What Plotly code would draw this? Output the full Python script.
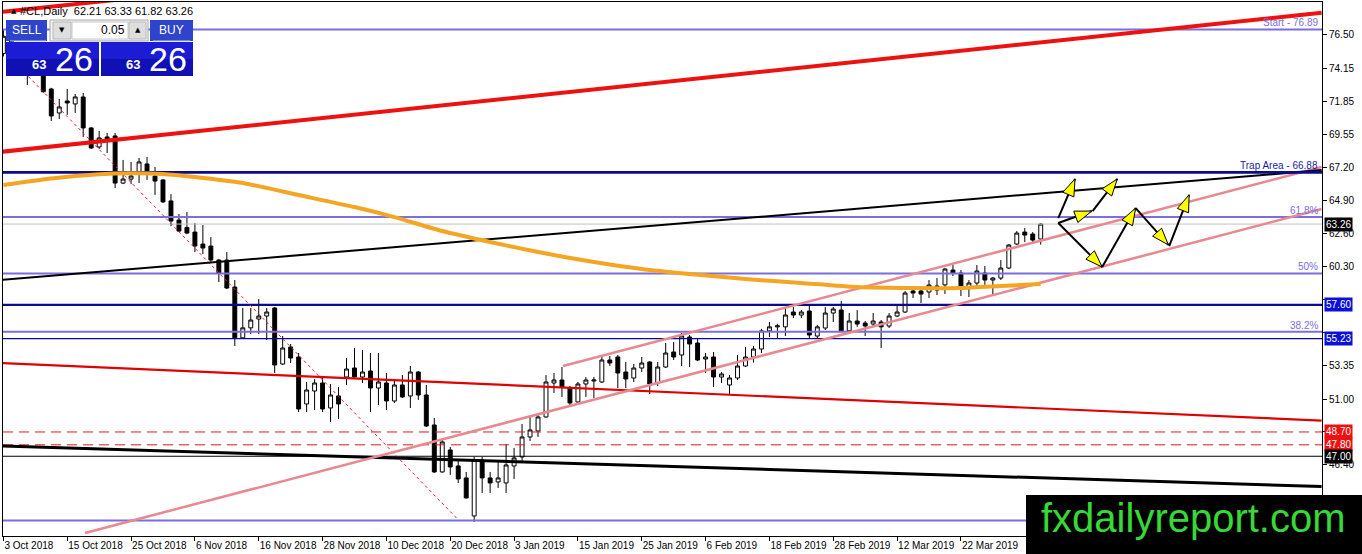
import plotly.graph_objects as go

# ---------------- data ----------------
opens = [75.20, 76.41, 74.33, 74.34, 74.29, 74.96, 72.72, 71.04, 71.88, 71.67,
         72.16, 69.99, 68.66, 69.36, 69.43, 66.13, 66.41, 66.91, 67.47, 66.62,
         66.35, 64.88, 63.54, 63.02, 62.70, 61.86, 61.72, 60.74, 60.74, 58.85,
         55.29, 55.99, 56.61, 56.82, 57.38, 53.46, 54.65, 53.95, 50.66, 51.57,
         52.13, 50.38, 51.22, 52.55, 53.18, 52.55, 52.97, 51.78, 52.13, 50.87,
         51.99, 51.22, 52.90, 51.29, 49.19, 45.90, 47.44, 46.32, 45.48, 42.82,
         46.74, 45.48, 45.20, 45.13, 46.32, 46.95, 48.35, 48.77, 49.75, 52.13,
         52.34, 51.78, 50.80, 52.06, 52.27, 52.20, 53.74, 53.95, 52.90, 52.48,
         53.18, 53.60, 52.13, 53.25, 54.30, 54.09, 55.35, 54.93, 53.81, 53.95,
         52.55, 51.99, 52.48, 53.32, 53.95, 54.51, 55.78, 56.06, 56.06, 57.10,
         56.89, 57.17, 55.42, 55.98, 57.03, 57.24, 55.78, 56.47, 56.33, 56.26,
         56.40, 56.12, 56.82, 57.10, 58.57, 58.57, 58.50, 58.92, 59.00, 60.04,
         59.83, 58.85, 59.13, 59.83, 59.34, 59.48, 60.18, 61.86, 62.70, 62.56,
         62.21]
highs = [76.89, 76.50, 74.95, 75.15, 75.20, 75.00, 72.80, 72.02, 72.72, 72.37,
         72.44, 70.05, 69.78, 69.64, 69.64, 67.75, 67.61, 67.89, 67.96, 67.26,
         66.40, 65.36, 63.96, 64.10, 63.33, 63.19, 62.35, 60.80, 61.30, 59.34,
         57.39, 57.38, 58.01, 57.38, 57.45, 55.42, 54.86, 54.23, 52.20, 52.41,
         52.48, 52.06, 51.85, 53.88, 54.58, 54.44, 54.23, 54.23, 52.83, 52.41,
         52.69, 53.32, 52.97, 51.99, 49.68, 48.14, 47.65, 46.74, 45.90, 46.96,
         46.96, 45.90, 46.60, 47.86, 47.58, 49.26, 49.75, 49.89, 52.69, 52.83,
         53.25, 51.92, 52.20, 52.55, 52.55, 54.02, 54.02, 54.09, 53.60, 53.46,
         53.95, 53.65, 53.60, 54.93, 55.00, 55.63, 55.49, 55.21, 54.23, 54.30,
         52.90, 52.69, 54.09, 54.65, 54.72, 55.92, 56.40, 56.27, 57.45, 57.45,
         57.24, 57.52, 56.20, 57.45, 57.45, 57.87, 57.03, 57.24, 56.47, 57.03,
         56.54, 57.03, 57.59, 58.57, 58.78, 58.85, 59.34, 59.48, 60.18, 60.39,
         60.04, 59.34, 60.39, 60.32, 59.55, 60.74, 61.86, 62.77, 62.98, 62.70,
         63.33]
lows = [75.00, 74.10, 73.80, 73.00, 74.00, 72.45, 70.48, 70.62, 70.90, 71.04,
        69.36, 68.52, 68.52, 68.24, 65.78, 66.06, 66.06, 66.13, 66.35, 65.30,
        64.74, 63.12, 62.70, 62.55, 61.30, 61.16, 60.53, 59.20, 58.71, 54.72,
        55.22, 55.56, 55.56, 55.14, 52.83, 53.39, 53.53, 50.10, 50.10, 50.24,
        50.10, 49.40, 49.61, 51.99, 52.50, 52.13, 50.10, 50.59, 50.24, 50.73,
        51.08, 50.38, 50.94, 49.05, 45.83, 45.85, 45.69, 45.13, 44.05, 42.40,
        44.43, 44.43, 44.78, 44.43, 45.41, 46.60, 48.07, 48.35, 49.70, 51.43,
        51.15, 50.52, 50.73, 51.15, 51.08, 52.13, 53.32, 51.78, 51.78, 52.20,
        52.90, 51.36, 51.92, 53.18, 53.74, 53.32, 53.25, 53.67, 52.83, 51.85,
        52.13, 51.29, 52.34, 53.25, 53.56, 54.23, 55.35, 55.28, 55.42, 56.68,
        56.68, 55.28, 55.28, 55.84, 56.40, 55.70, 55.70, 56.06, 55.42, 56.12,
        54.58, 55.98, 56.75, 57.03, 58.08, 57.73, 58.08, 58.29, 58.36, 59.62,
        58.22, 58.15, 58.92, 59.00, 58.29, 59.34, 60.11, 61.79, 62.00, 62.00,
        61.82]
closes = [76.41, 74.33, 74.34, 74.29, 74.96, 72.53, 70.83, 71.46, 71.74, 72.16,
          69.99, 68.59, 69.29, 69.15, 66.13, 66.41, 66.62, 67.61, 66.91, 66.27,
          64.81, 63.47, 62.77, 62.63, 61.72, 61.58, 60.74, 59.83, 58.78, 55.29,
          55.99, 56.54, 56.82, 57.10, 53.39, 54.58, 53.88, 50.31, 51.64, 52.13,
          50.31, 51.29, 50.66, 53.11, 52.55, 52.90, 51.78, 52.20, 50.87, 51.99,
          51.15, 52.90, 51.29, 49.12, 45.90, 48.00, 46.25, 45.41, 44.08, 46.74,
          45.48, 45.13, 45.48, 46.39, 46.88, 48.35, 48.84, 49.75, 52.20, 52.34,
          51.85, 50.73, 52.06, 52.34, 52.34, 53.74, 53.53, 52.83, 52.41, 53.18,
          53.53, 52.06, 53.25, 54.23, 53.95, 55.42, 54.86, 53.74, 53.95, 52.55,
          52.76, 52.48, 53.32, 53.95, 54.51, 55.78, 56.06, 56.13, 56.89, 56.89,
          57.10, 55.49, 56.06, 57.03, 57.31, 55.78, 56.47, 56.26, 56.12, 56.47,
          56.06, 56.82, 57.10, 58.43, 58.43, 58.36, 58.99, 58.64, 60.11, 59.83,
          58.85, 59.13, 59.97, 59.34, 59.48, 60.18, 61.79, 62.63, 62.49, 62.14,
          63.26]
bars = list(range(len(opens)))

tick_bars = [0, 8, 16, 24, 32, 40, 48, 56, 64, 72, 80, 88, 96, 104, 112, 120]
tick_dates = ["3 Oct 2018", "15 Oct 2018", "25 Oct 2018", "6 Nov 2018", "16 Nov 2018",
              "28 Nov 2018", "10 Dec 2018", "20 Dec 2018", "3 Jan 2019", "15 Jan 2019",
              "25 Jan 2019", "6 Feb 2019", "18 Feb 2019", "28 Feb 2019", "12 Mar 2019",
              "22 Mar 2019"]
price_ticks = [76.50, 74.15, 71.85, 69.55, 67.20, 64.90, 62.60, 60.30, 57.95, 55.65,
               53.35, 51.00, 48.70, 46.40, 44.10]
# tick labels hidden behind the coloured price boxes / watermark
covered_ticks = [57.95, 55.65, 48.70, 44.10]

# moving average (orange)
ma_bars = [0, 6, 12, 16, 20, 24, 30, 37, 44, 49, 55, 61, 67, 74, 80, 86, 93, 100,
           107, 114, 120, 125, 130]
ma_values = [65.99, 66.45, 66.74, 66.81, 66.76, 66.55, 66.13, 65.29, 64.45, 63.75,
             62.77, 62.00, 61.30, 60.60, 60.11, 59.76, 59.41, 59.13, 58.85, 58.78,
             58.78, 58.92, 59.06]

# horizontal levels
fib_levels = [76.89, 63.75, 59.80, 55.72, 42.50]
fib_labels = ["Start - 76.89", "61.8%", "50%", "38.2%", ""]
trap_level = 66.88
trap_label = "Trap Area - 66.88"
support_levels = [57.60, 55.23]
red_dash_levels = [48.70, 47.80]
black_level = 47.00
last_price = 63.26

# trend lines: [x0, y0, x1, y1] in bar / price units
red_thick_lines = [[-0.43, 68.31, 165.2, 78.05], [-0.43, 78.11, 165.2, 87.80]]
black_upper_line = [-0.43, 59.34, 165.2, 67.04]
red_lower_line = [-0.43, 53.53, 165.2, 49.50]
black_lower_line = [-0.43, 47.73, 165.2, 44.88]
pink_lower_line = [10.23, 41.63, 165.2, 64.31]
pink_upper_line = [70.13, 53.32, 165.2, 67.26]
fib_diagonal = [2.6, 73.90, 57.0, 42.55]

# projection arrows (start bar, start price, end bar, end price)
arrow_x0 = [132.2, 132.2, 136.5, 132.2, 137.7, 141.9, 146.1]
arrow_y0 = [63.68, 63.33, 64.17, 63.33, 60.25, 64.38, 61.72]
arrow_x1 = [134.3, 136.4, 139.6, 137.7, 141.9, 146.0, 148.6]
arrow_y1 = [66.42, 64.17, 66.42, 60.25, 64.38, 61.80, 65.31]

# right-axis price boxes
box_prices = [63.26, 57.60, 55.23, 48.70, 47.80, 47.00]
box_colors = ["#000000", "#0a10d8", "#0a10d8", "#ee1111", "#ee1111", "#000000"]

# ---------------- geometry helpers ----------------
W, H = 1362, 554
PL, PT, PW, PH = 3, 2, 1319, 534
XR = [-0.05, 165.25]
YR = [41.415, 78.81]


def to_px(x, y):
    return (PL + (x - XR[0]) / (XR[1] - XR[0]) * PW,
            PT + (YR[1] - y) / (YR[1] - YR[0]) * PH)


def from_px(px, py):
    return (XR[0] + (px - PL) / PW * (XR[1] - XR[0]),
            YR[1] - (py - PT) / PH * (YR[1] - YR[0]))


def pp(px, py):
    return (px - PL) / PW, (PT + PH - py) / PH


FONT = "Liberation Sans"
fig = go.Figure()

fig.add_trace(go.Candlestick(
    x=bars, open=opens, high=highs, low=lows, close=closes,
    increasing=dict(line=dict(color="black", width=1), fillcolor="white"),
    decreasing=dict(line=dict(color="black", width=1), fillcolor="black"),
    hoverinfo="skip", showlegend=False))


def hline(y, color, width, dash="solid"):
    fig.add_trace(go.Scatter(x=[XR[0], XR[1]], y=[y, y], mode="lines",
                             line=dict(color=color, width=width, dash=dash),
                             hoverinfo="skip", showlegend=False))


def seg(l, color, width, dash="solid"):
    fig.add_trace(go.Scatter(x=[l[0], l[2]], y=[l[1], l[3]], mode="lines",
                             line=dict(color=color, width=width, dash=dash),
                             hoverinfo="skip", showlegend=False))


PURPLE = "#7b6ee0"
NAVY = "#0a0a8c"
hline(last_price, "#c0c0c0", 1)
for lv in fib_levels:
    hline(lv, PURPLE, 2)
for lv in red_dash_levels:
    hline(lv, "#e01818", 1, "10px,6px")
hline(black_level, "black", 1)
hline(support_levels[0], NAVY, 2.2)
hline(support_levels[1], NAVY, 1.2)

seg(fib_diagonal, "#e02030", 1, "3px,3px")
seg(red_lower_line, "#e00000", 2.2)
seg(black_lower_line, "black", 3)
seg(pink_lower_line, "#e88890", 2.5)
seg(pink_upper_line, "#e88890", 2.5)
seg(black_upper_line, "black", 2)
hline(trap_level, NAVY, 2.6)
fig.add_trace(go.Scatter(x=ma_bars, y=ma_values, mode="lines",
                         line=dict(color="#f5a524", width=4, shape="spline", smoothing=0.6),
                         hoverinfo="skip", showlegend=False))
for l in red_thick_lines:
    seg(l, "#ee1111", 4)

# arrows: black shaft + yellow head
for sx, sy, ex, ey in zip(arrow_x0, arrow_y0, arrow_x1, arrow_y1):
    spx, spy = to_px(sx, sy)
    epx, epy = to_px(ex, ey)
    dx, dy = epx - spx, epy - spy
    n = (dx * dx + dy * dy) ** 0.5
    ux, uy = dx / n, dy / n
    L, Wd = 17, 6
    bx, by = epx - L * ux, epy - L * uy
    p1 = from_px(bx - Wd * uy, by + Wd * ux)
    p2 = from_px(bx + Wd * uy, by - Wd * ux)
    fig.add_trace(go.Scatter(x=[sx, ex], y=[sy, ey], mode="lines",
                             line=dict(color="black", width=2),
                             hoverinfo="skip", showlegend=False))
    fig.add_trace(go.Scatter(x=[ex, p1[0], p2[0], ex], y=[ey, p1[1], p2[1], ey],
                             mode="lines", fill="toself", fillcolor="#ffff00",
                             line=dict(color="black", width=1),
                             hoverinfo="skip", showlegend=False))

annotations = []
shapes = []

# level labels
for lv, txt in zip(fib_levels, fib_labels):
    if txt:
        annotations.append(dict(x=XR[1] - 0.3, y=lv, xref="x", yref="y", text=txt,
                                xanchor="right", yanchor="bottom", showarrow=False,
                                font=dict(family=FONT, size=10, color=PURPLE), yshift=-1))
annotations.append(dict(x=XR[1] - 0.3, y=trap_level, xref="x", yref="y", text=trap_label,
                        xanchor="right", yanchor="bottom", showarrow=False,
                        font=dict(family=FONT, size=10, color="#1a1aa8"), yshift=-1))

# right axis price boxes
for pr, col in zip(box_prices, box_colors):
    annotations.append(dict(x=pp(1324, 0)[0], y=pr, xref="paper", yref="y",
                            text=f"{pr:.2f}", xanchor="left", yanchor="middle",
                            showarrow=False, bgcolor=col, borderpad=1,
                            font=dict(family=FONT, size=10, color="white")))

# title
tx, ty = pp(9, 11)
annotations.append(dict(x=tx, y=ty, xref="paper", yref="paper", text="▲",
                        xanchor="left", yanchor="middle", showarrow=False,
                        font=dict(family="DejaVu Sans", size=7, color="black")))
tx, ty = pp(18, 11)
annotations.append(dict(x=tx, y=ty, xref="paper", yref="paper",
                        text="#CL,Daily  62.21 63.33 61.82 63.26",
                        xanchor="left", yanchor="middle", showarrow=False,
                        font=dict(family=FONT, size=11, color="black")))


def rect(x0, y0, x1, y1, fill, line=None, lw=0):
    a = pp(x0, y0)
    b = pp(x1, y1)
    shapes.append(dict(type="rect", xref="paper", yref="paper", x0=a[0], y0=a[1],
                       x1=b[0], y1=b[1], fillcolor=fill, layer="above",
                       line=dict(color=line or fill, width=lw)))


def text(px, py, s, size, color, anchor="center", bold=False, family=FONT):
    x, y = pp(px, py)
    annotations.append(dict(x=x, y=y, xref="paper", yref="paper",
                            text=f"<b>{s}</b>" if bold else s,
                            xanchor=anchor, yanchor="middle", showarrow=False,
                            font=dict(family=family, size=size, color=color)))


# trading panel
rect(6, 42, 99, 59, "#1c1cd4")
rect(6, 59, 99, 76, "#1010b4")
rect(101, 42, 193, 59, "#1c1cd4")
rect(101, 59, 193, 76, "#1010b4")
rect(6, 20, 47, 41, "#2e44cc")
rect(150, 20, 193, 41, "#2e44cc")
rect(50, 20, 148, 41, "#f4f4f4", "#a8a8a8", 1)
rect(53, 22, 71, 39, "#dedede", "#b8b8b8", 1)
rect(72, 22, 128, 39, "white", "#c8c8c8", 1)
rect(129, 22, 146, 39, "#dedede", "#b8b8b8", 1)
rect(10, 40.5, 46, 41.5, "#c8d0f4")
rect(153, 40.5, 190, 41.5, "#c8d0f4")
text(27, 30, "SELL", 12, "white")
text(171, 30, "BUY", 12, "white")
text(62, 30, "▼", 7, "black", family="DejaVu Sans")
text(137.5, 30, "▲", 7, "black", family="DejaVu Sans")
text(127, 30, "0.05", 12, "black", anchor="right")
text(48, 65, "63", 13, "white", anchor="right", bold=True)
text(53, 59, "26", 34, "white", anchor="left")
text(142, 65, "63", 13, "white", anchor="right", bold=True)
text(147, 59, "26", 34, "white", anchor="left")

# watermark
rect(1026, 495, 1362, 554, "black")
text(1193, 518, "fxdailyreport.com", 40, "#36d936")

fig.update_layout(
    width=W, height=H, autosize=False,
    margin=dict(l=PL, r=W - PL - PW, t=PT, b=H - PT - PH, autoexpand=False),
    paper_bgcolor="white", plot_bgcolor="white",
    showlegend=False, hovermode=False,
    annotations=annotations, shapes=shapes,
    xaxis=dict(range=XR, showgrid=False, zeroline=False, rangeslider=dict(visible=False),
               tickvals=tick_bars, ticktext=tick_dates, ticks="outside", ticklen=4,
               tickcolor="black", ticklabelposition="outside right", tickangle=0,
               automargin=False,
               tickfont=dict(family=FONT, size=10, color="black"),
               showline=True, linecolor="black", linewidth=1, mirror=True),
    yaxis=dict(range=YR, side="right", showgrid=False, zeroline=False, automargin=False,
               tickvals=price_ticks,
               ticktext=["" if v in covered_ticks else f"{v:.2f}" for v in price_ticks],
               ticks="outside", ticklen=4, tickcolor="black",
               tickfont=dict(family=FONT, size=10, color="black"),
               showline=True, linecolor="black", linewidth=1, mirror=True),
)

fig.write_html("out.html", config={"displayModeBar": False, "staticPlot": True},
               post_script="document.body.style.margin='0';document.body.style.overflow='hidden';")
